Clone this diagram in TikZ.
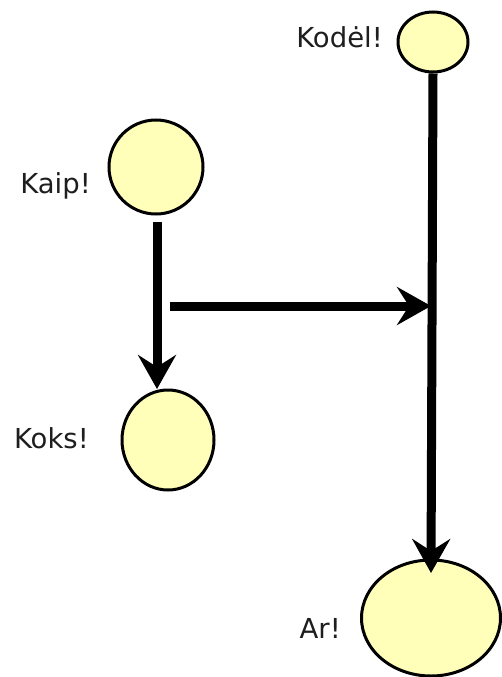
\documentclass[tikz,border=0pt]{standalone}
\usepackage{fontspec}
\setmainfont{DejaVu Sans}
\usetikzlibrary{arrows.meta,shapes.geometric}
\definecolor{bubble}{RGB}{255,255,185}
\definecolor{txt}{RGB}{30,30,30}
\tikzset{
  bub/.style={ellipse,draw=black,line width=3pt,fill=bubble,inner sep=0pt},
  lbl/.style={anchor=base east,inner sep=0pt,text=txt,font=\fontsize{27.5}{32}\selectfont},
  conn/.style={line width=9pt,-{Stealth[length=34pt,width=38pt,inset=12pt]}}
}
\begin{document}
\begin{tikzpicture}[x=1pt,y=-1pt]
\useasboundingbox (0,0) rectangle (501,677);
\node[bub,minimum width=70pt,minimum height=60pt] (kodel) at (433,42) {};
\node[bub,minimum width=94pt,minimum height=94pt] (kaip) at (156,167) {};
\node[bub,minimum width=92pt,minimum height=100pt] (koks) at (168,440) {};
\node[bub,minimum width=139pt,minimum height=116pt] (ar) at (431,618) {};
\node[lbl] (lkodel) at (383,48) {Kodėl!};
\node[lbl] (lkaip) at (91,193) {Kaip!};
\node[lbl] (lkoks) at (89,448) {Koks!};
\node[lbl] (lar) at (341,638) {Ar!};
\coordinate (s1) at (157,222);
\coordinate (e1) at (157,389);
\coordinate (s2) at (170,306);
\coordinate (e2) at (431,306);
\coordinate (e3) at (431,573);
\draw[conn] (s1) -- (e1);
\draw[conn] (s2) -- (e2);
\draw[conn] (kodel.south) -- (e3);
\end{tikzpicture}
\end{document}
